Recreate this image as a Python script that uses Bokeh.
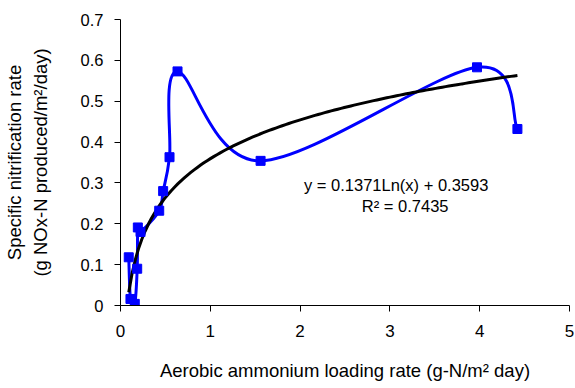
import numpy as np
from bokeh.plotting import figure
from bokeh.models import FixedTicker, CustomJSTickFormatter, Label, ColumnDataSource
from bokeh.embed import file_html
from bokeh.resources import INLINE

# Data
loading_rate = [0.092, 0.111, 0.159, 0.186, 0.193, 0.223, 0.431, 0.475, 0.546, 0.635, 1.56, 3.97, 4.42]
nitrification = [0.118, 0.016, 0.004, 0.090, 0.191, 0.180, 0.232, 0.280, 0.363, 0.573, 0.354, 0.583, 0.432]

# Logarithmic trendline coefficients (from chart text)
trend_a = 0.1371
trend_b = 0.3593
r_squared = 0.7435

x_ticks = [0, 1, 2, 3, 4, 5]
y_ticks = [0, 0.1, 0.2, 0.3, 0.4, 0.5, 0.6, 0.7]

FONT = "Liberation Sans"

p = figure(width=575, height=388, output_backend="svg", toolbar_location=None,
           x_range=(0, 5), y_range=(0, 0.7),
           min_border_left=120, min_border_right=6, min_border_top=19, min_border_bottom=83)
p.outline_line_color = None
p.grid.grid_line_color = None
p.background_fill_color = "white"
p.border_fill_color = "white"

# Smoothed line (Catmull-Rom -> cubic Bezier) through the data points
xs = np.array(loading_rate)
ys = np.array(nitrification)
n = len(xs)
xp = np.concatenate([[xs[0]], xs, [xs[-1]]])
yp = np.concatenate([[ys[0]], ys, [ys[-1]]])
x0 = xp[1:n]; y0 = yp[1:n]
x1 = xp[2:n + 1]; y1 = yp[2:n + 1]
cx0 = x0 + (xp[2:n + 1] - xp[0:n - 1]) / 6.0
cy0 = y0 + (yp[2:n + 1] - yp[0:n - 1]) / 6.0
cx1 = x1 - (xp[3:n + 2] - xp[1:n]) / 6.0
cy1 = y1 - (yp[3:n + 2] - yp[1:n]) / 6.0
bez = ColumnDataSource(dict(x0=x0, y0=y0, x1=x1, y1=y1, cx0=cx0, cy0=cy0, cx1=cx1, cy1=cy1))
p.bezier(x0="x0", y0="y0", x1="x1", y1="y1", cx0="cx0", cy0="cy0", cx1="cx1", cy1="cy1",
         source=bez, line_color="#0000FF", line_width=3)

# Trendline
tx = np.linspace(min(loading_rate), max(loading_rate), 120)
ty = trend_a * np.log(tx) + trend_b
p.line(tx, ty, line_color="black", line_width=3)

p.scatter(loading_rate, nitrification, marker="square", size=9, fill_color="#0000FF", line_color="#0000FF")

# Axes
for ax in (p.xaxis[0], p.yaxis[0]):
    ax.axis_line_color = "black"
    ax.major_tick_line_color = "black"
    ax.major_tick_out = 6
    ax.major_tick_in = 0
    ax.minor_tick_line_color = None
    ax.major_label_text_font = FONT
    ax.major_label_text_color = "black"
    ax.axis_label_text_font = FONT
    ax.axis_label_text_font_size = "18.5px"
    ax.axis_label_text_font_style = "normal"
    ax.axis_label_text_color = "black"

p.xaxis[0].major_label_text_font_size = "17px"
p.yaxis[0].major_label_text_font_size = "16.5px"
p.xaxis[0].ticker = FixedTicker(ticks=x_ticks)
p.yaxis[0].ticker = FixedTicker(ticks=y_ticks)
p.xaxis[0].formatter = CustomJSTickFormatter(code="return tick.toFixed(0);")
p.yaxis[0].formatter = CustomJSTickFormatter(code="return tick == 0 ? '0' : tick.toFixed(1);")
p.xaxis[0].major_label_standoff = 13
p.yaxis[0].major_label_standoff = 11
p.xaxis[0].axis_label = "Aerobic ammonium loading rate (g-N/m² day)"
p.xaxis[0].axis_label_standoff = 20
p.yaxis[0].axis_label = "Specific nitrification rate\n(g NOx-N produced/m²/day)"
p.yaxis[0].axis_label_standoff = 27

# Equation labels
p.add_layout(Label(x=3.07, y=0.295, text=f"y = {trend_a}Ln(x) + {trend_b}",
                   text_font=FONT, text_font_size="16.5px", text_align="center",
                   text_baseline="middle", text_color="black"))
p.add_layout(Label(x=3.17, y=0.243, text=f"R² = {r_squared}",
                   text_font=FONT, text_font_size="16.5px", text_align="center",
                   text_baseline="middle", text_color="black"))

open("out.html", "w").write(file_html(p, INLINE))
